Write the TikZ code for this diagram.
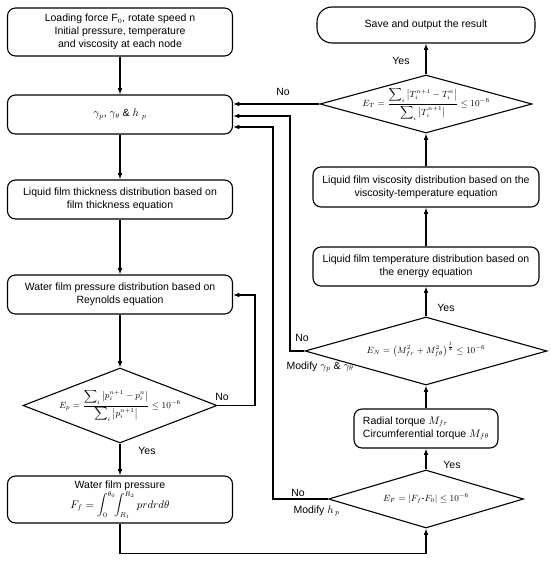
\documentclass[tikz,border=0pt]{standalone}
\usepackage[no-math]{fontspec}
\setmainfont{Liberation Sans}
\usepackage{amsmath,amssymb}
\usetikzlibrary{positioning, calc, arrows.meta, shapes.geometric}
\newcommand{\fitmath}[1]{\makebox[0pt]{\smash{\raisebox{-2.5pt}{#1}}}}

\begin{document}
\begin{tikzpicture}[x=1pt,y=-1pt,
    box/.style={draw,line width=1.1pt,rounded corners=8pt,align=center,minimum width=225pt,minimum height=39pt,inner sep=2pt,font=\fontsize{10.5}{13}\selectfont},
    test/.style={draw,line width=1.1pt,diamond,inner sep=0pt,font=\fontsize{9}{11}\selectfont},
    arr/.style={line width=1.1pt,-{Latex[length=2.2mm]}},
    lbl/.style={font=\fontsize{10.5}{12}\selectfont}]
      \useasboundingbox (0,0) rectangle (550,561);
      \node[box,minimum height=48pt] (init) at (120,32) {Loading force F$_0$, rotate speed n\\Initial pressure, temperature\\and viscosity at each node};
      \node[box] (gam) at (120,114.5) {$\gamma_p$, $\gamma_\theta$ \& $h$ $_p$};
      \node[box] (thick) at (120,199.5) {Liquid film thickness distribution based on\\film thickness equation};
      \node[box] (reyn) at (120,294.5) {Water film pressure distribution based on\\Reynolds equation};
      \node[test,minimum width=194pt,minimum height=75pt] (Epd) at (120,405.5) {\fitmath{$E_p=\dfrac{\displaystyle\sum\nolimits_i\left|p_i^{n+1}-p_i^n\right|}{\displaystyle\sum\nolimits_i\left|p_i^{n+1}\right|}\le10^{-6}$}};
      \node[box,minimum height=47pt] (Ffbox) at (120,499.5) {Water film pressure\\$\displaystyle F_f=\int_0^{\theta_0}\!\!\int_{R_1}^{R_2} prdrd\theta$};
      \node[box,rounded corners=15pt,minimum width=218pt,minimum height=36pt] (save) at (426,25) {Save and output the result};
      \node[test,minimum width=212pt,minimum height=58pt] (ETd) at (426,104) {\fitmath{$E_T=\dfrac{\displaystyle\sum\nolimits_i\left|T_i^{n+1}-T_i^n\right|}{\displaystyle\sum\nolimits_i\left|T_i^{n+1}\right|}\le10^{-6}$}};
      \node[box,minimum width=226pt,minimum height=40pt] (visc) at (426,187) {Liquid film viscosity distribution based on the\\viscosity-temperature equation};
      \node[box,minimum width=226pt] (temp) at (426,266.5) {Liquid film temperature distribution based on\\the energy equation};
      \node[test,minimum width=242pt,minimum height=68pt] (ENd) at (426,351) {\fitmath{$E_N=\left(M_{fr}^2+M_{f\theta}^2\right)^{\frac12}\le10^{-6}$}};
      \node[box,minimum width=144pt,align=left] (torque) at (426,428.5) {Radial torque $M_{fr}$\\Circumferential torque $M_{f\theta}$};
      \node[test,minimum width=195pt,minimum height=58pt] (Efd) at (426,499) {\fitmath{$E_F=\left|F_f\text{-}F_0\right|\le10^{-6}$}};
      \draw[arr] (init) -- (gam);
      \draw[arr] (gam) -- (thick);
      \draw[arr] (thick) -- (reyn);
      \draw[arr] (reyn) -- (Epd);
      \draw[arr] (Epd) -- (Ffbox);
      \draw[arr] (Ffbox.south) |- ($(Efd.south)+(0,25)$) -- (Efd.south);
      \draw[arr] (Efd) -- (torque);
      \draw[arr] (torque) -- (ENd);
      \draw[arr] (ENd) -- (temp);
      \draw[arr] (temp) -- (visc);
      \draw[arr] (visc) -- (ETd);
      \draw[arr] (ETd) -- (save);
      \draw[arr] (ETd.west) -- (ETd.west -| gam.east);
      \coordinate (kN) at (290,116);
      \draw[arr] (ENd.west) -| (kN) -- (kN -| gam.east);
      \coordinate (kF) at (273,127);
      \draw[arr] (Efd.west) -| (kF) -- (kF -| gam.east);
      \coordinate (kP) at (255,295);
      \draw[arr] (Epd.east) -| (kP) -- (kP -| reyn.east);
      \node[lbl] (noT) at (283,92) {No};
      \node[lbl] (yesT) at (401,61) {Yes};
      \node[lbl] (yesN) at (446,308) {Yes};
      \node[lbl] (noN) at (302,338) {No};
      \node[lbl,anchor=west] (modN) at (283,367) {Modify $\gamma_p$ \& $\gamma_\theta$};
      \node[lbl] (noP) at (222,397) {No};
      \node[lbl] (yesP) at (147,451) {Yes};
      \node[lbl] (yesF) at (452,465) {Yes};
      \node[lbl] (noF) at (298,493) {No};
      \node[lbl,anchor=west] (modF) at (290,511) {Modify $h_{\,p}$};
    \end{tikzpicture}
\end{document}
